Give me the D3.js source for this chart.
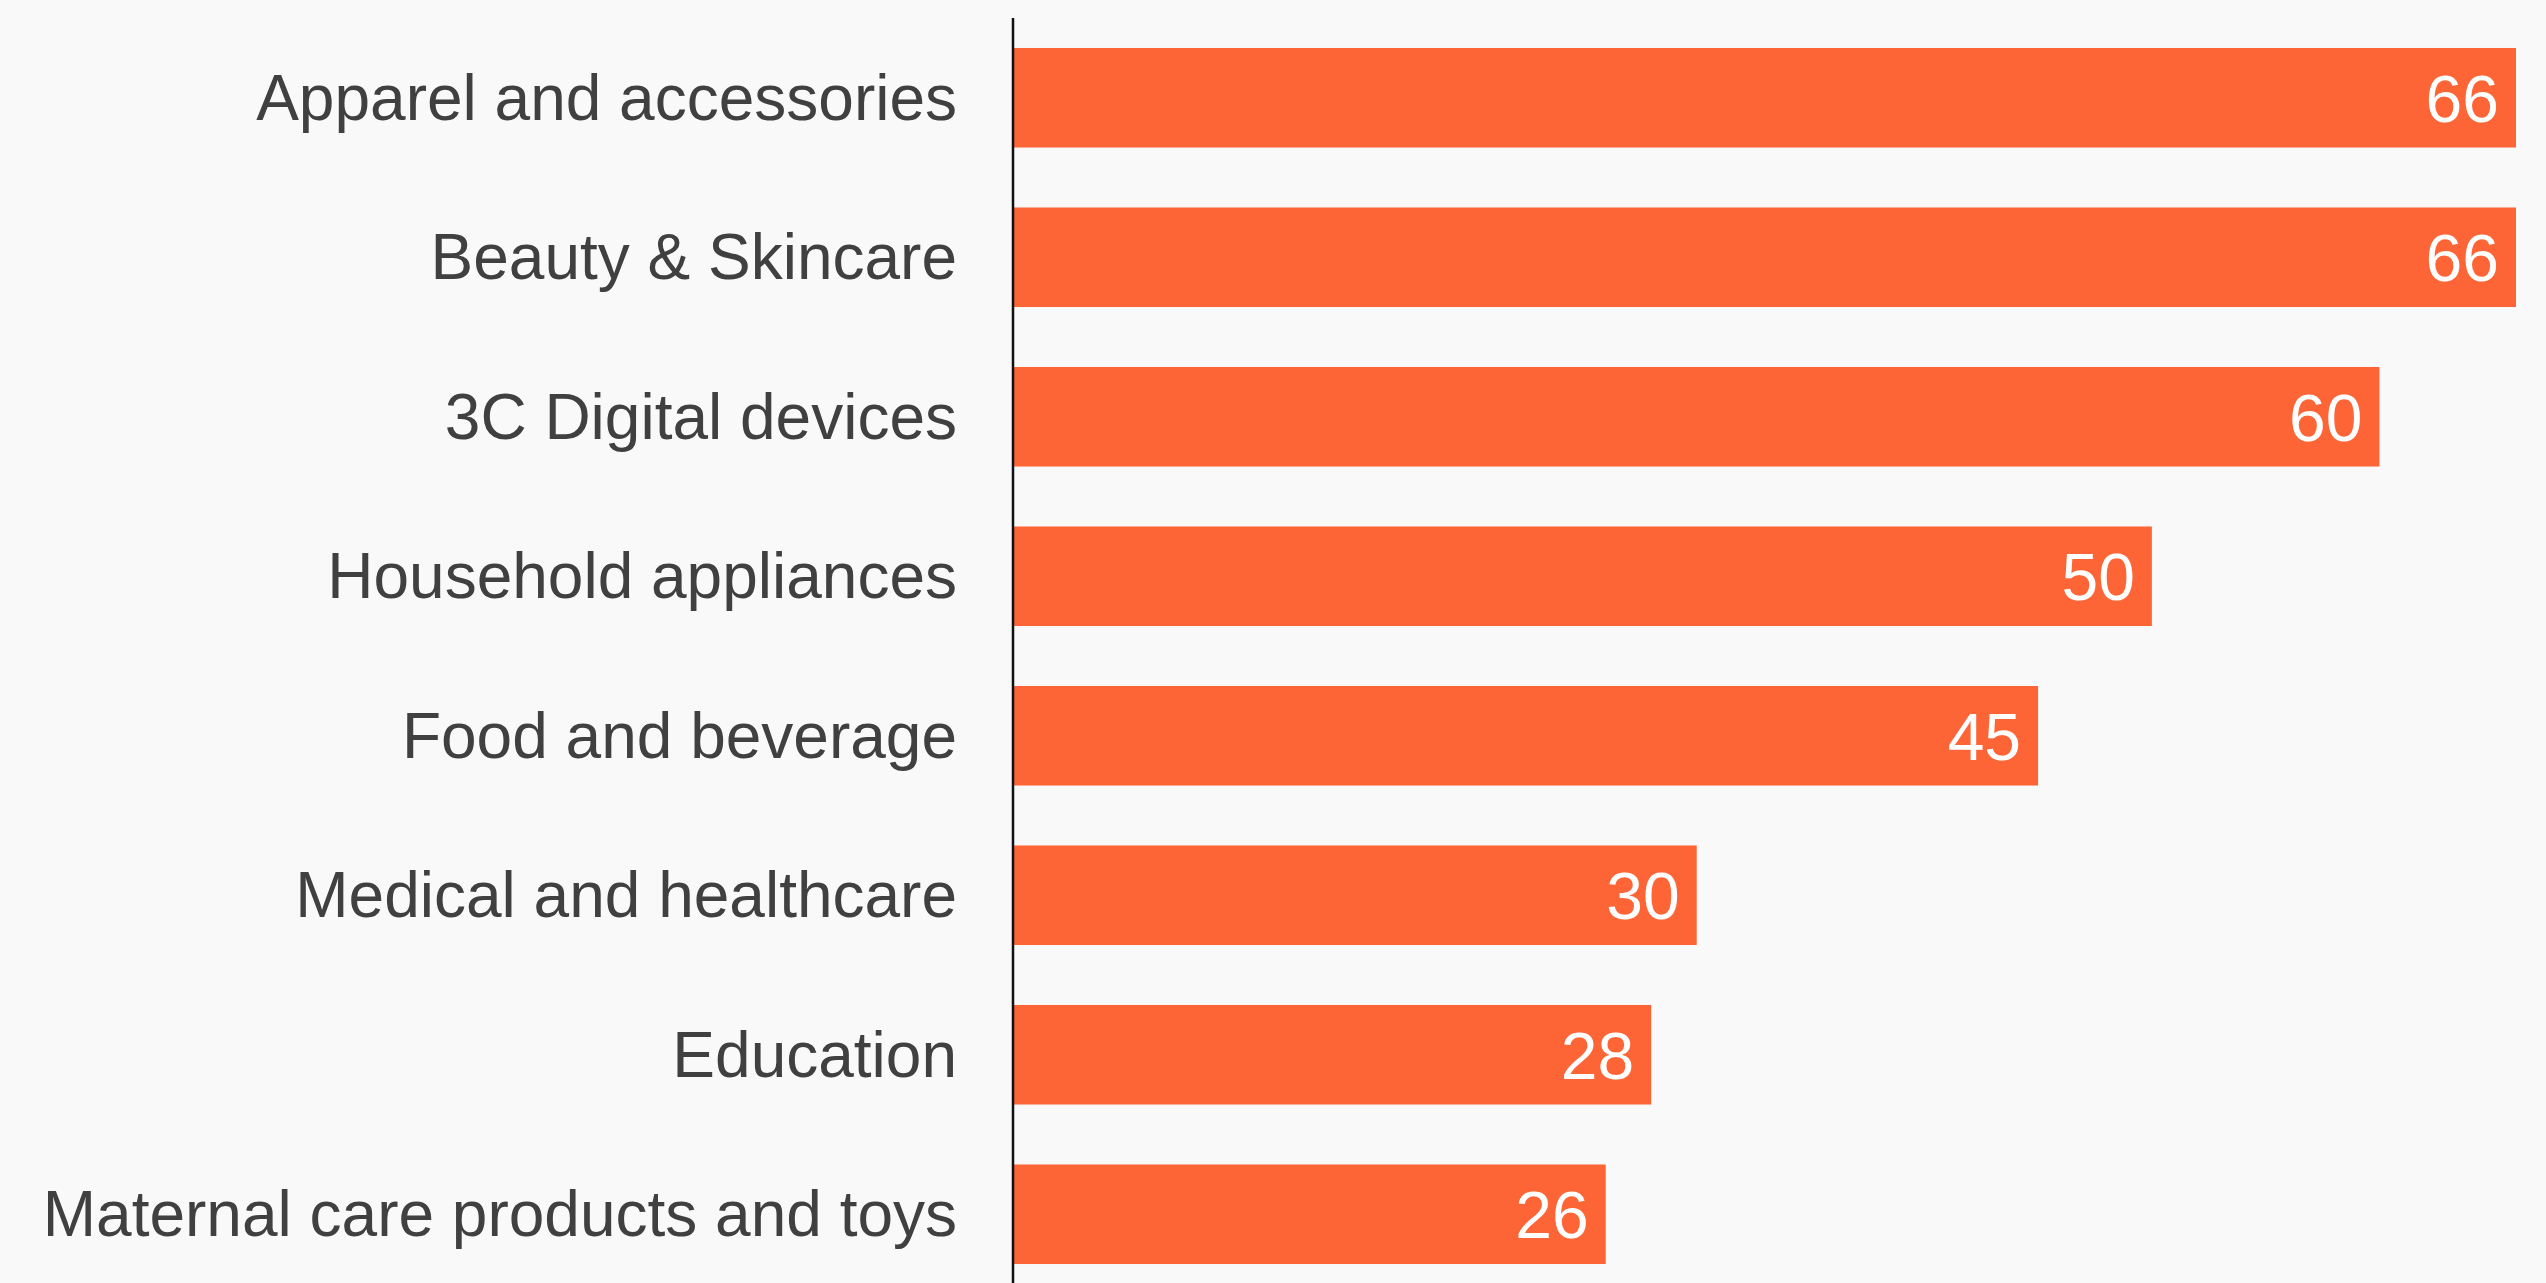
<!DOCTYPE html>
<html>
<head>
<meta charset="utf-8">
<script src="https://cdn.jsdelivr.net/npm/d3@7"></script>
<style>
  html, body { margin: 0; padding: 0; background: #f9f9f9; }
  svg { display: block; }
</style>
</head>
<body>
<svg id="chart" width="2546" height="1283"></svg>
<script>
const categories = [
  "Apparel and accessories",
  "Beauty & Skincare",
  "3C Digital devices",
  "Household appliances",
  "Food and beverage",
  "Medical and healthcare",
  "Education",
  "Maternal care products and toys"
];
const values = [66, 66, 60, 50, 45, 30, 28, 26];

const W = 2546, H = 1283;
const svg = d3.select("#chart");
svg.append("rect").attr("width", W).attr("height", H).attr("fill", "#f9f9f9");

const x0 = 1014;
const x = d3.scaleLinear().domain([0, 66]).range([x0, 2516]);
const y = d3.scaleBand().domain(categories).range([18, 18 + 8 * 159.5])
  .paddingInner(0.376).paddingOuter(0.188);

const data = categories.map((c, i) => ({ c, v: values[i] }));

svg.append("g").selectAll("rect").data(data).join("rect")
  .attr("x", x(0))
  .attr("y", d => y(d.c))
  .attr("width", d => x(d.v) - x(0))
  .attr("height", y.bandwidth())
  .attr("fill", "#fe6536");

svg.append("g").selectAll("text").data(data).join("text")
  .attr("x", d => x(d.v) - 17)
  .attr("y", d => y(d.c) + y.bandwidth() / 2)
  .attr("dy", "0.36em")
  .attr("text-anchor", "end")
  .attr("fill", "#ffffff")
  .attr("font-family", "Liberation Sans, Arial, sans-serif")
  .attr("font-size", 66)
  .text(d => d.v);

svg.append("g").selectAll("text").data(data).join("text")
  .attr("x", 957)
  .attr("y", d => y(d.c) + y.bandwidth() / 2)
  .attr("dy", "0.34em")
  .attr("text-anchor", "end")
  .attr("fill", "#404040")
  .attr("font-family", "Liberation Sans, Arial, sans-serif")
  .attr("font-size", 64)
  .text(d => d.c);

svg.append("line")
  .attr("x1", 1013).attr("x2", 1013)
  .attr("y1", 18).attr("y2", H)
  .attr("stroke", "#111")
  .attr("stroke-width", 2.5);
</script>
</body>
</html>
